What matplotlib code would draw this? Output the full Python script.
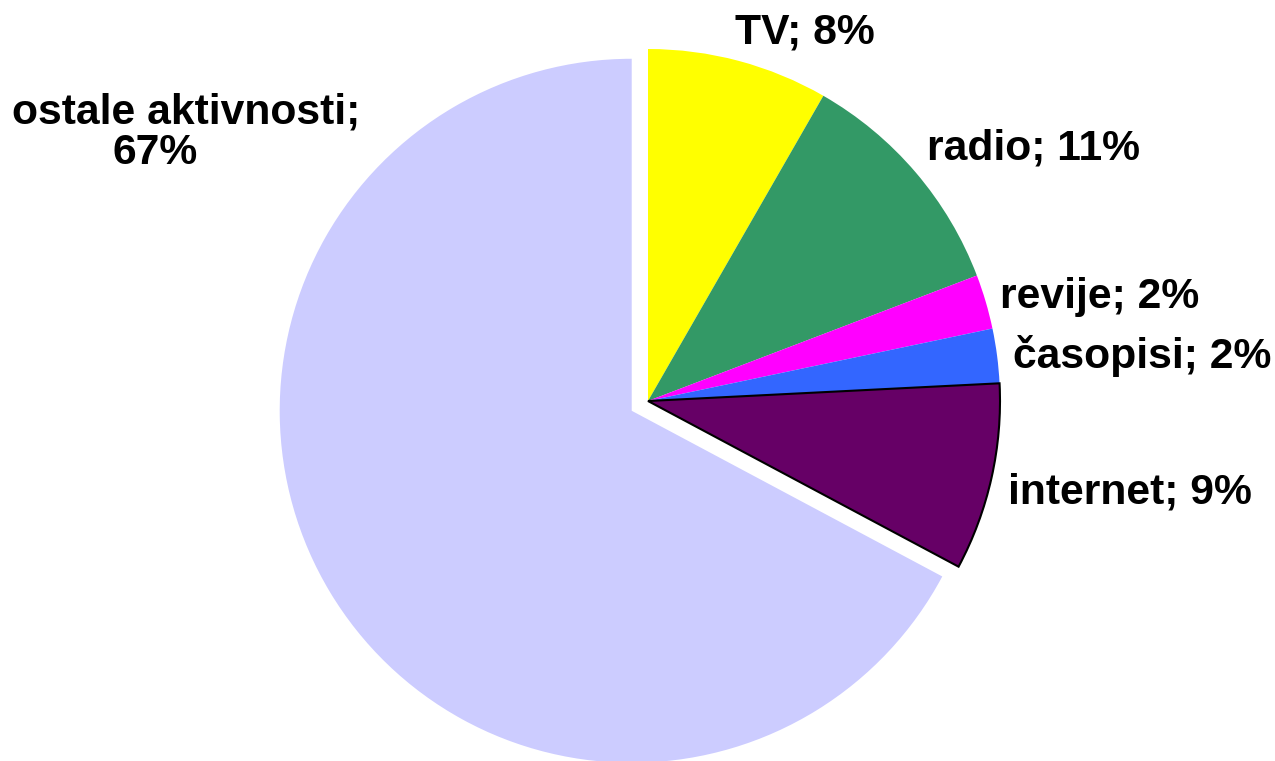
import matplotlib.pyplot as plt

# Data (share of time, %)
categories = ['TV', 'radio', 'revije', 'časopisi', 'internet', 'ostale aktivnosti']
values = [8.3, 10.9, 2.5, 2.5, 8.6, 67.2]
labels = ['TV; 8%', 'radio; 11%', 'revije; 2%', 'časopisi; 2%', 'internet; 9%']
colors = ['#FFFF00', '#339966', '#FF00FF', '#3366FF', '#660066', '#CCCCFF']

W, H = 1275, 761
fig = plt.figure(figsize=(W / 100, H / 100), dpi=100)
ax = fig.add_axes([0, 0, 1, 1])

# pie in pixel-like coordinates, only the last slice pulled out
wedges, _ = ax.pie(values, colors=colors, startangle=90, counterclock=False,
                   center=(648, H - 401), radius=352,
                   explode=[0, 0, 0, 0, 0, 19], frame=True,
                   wedgeprops=dict(linewidth=0))
wedges[4].set_edgecolor('black')
wedges[4].set_linewidth(1.5)
ax.set_xlim(0, W)
ax.set_ylim(0, H)
ax.set_aspect('auto')
ax.axis('off')

# label positions (left edge, baseline) in pixels from top-left
label_pos = [(735, 43), (927, 160), (1000, 308), (1013, 368), (1008, 503)]
font = dict(family='Liberation Sans', fontweight='bold', fontsize=30.7)
for text, (x, y) in zip(labels, label_pos):
    ax.text(x, H - y, text, ha='left', va='baseline', **font)

ax.text(12, H - 123, 'ostale aktivnosti;', ha='left', va='baseline', **font)
ax.text(112, H - 164, '67%', ha='left', va='baseline', **font)

fig.savefig('out.png', dpi=100)
